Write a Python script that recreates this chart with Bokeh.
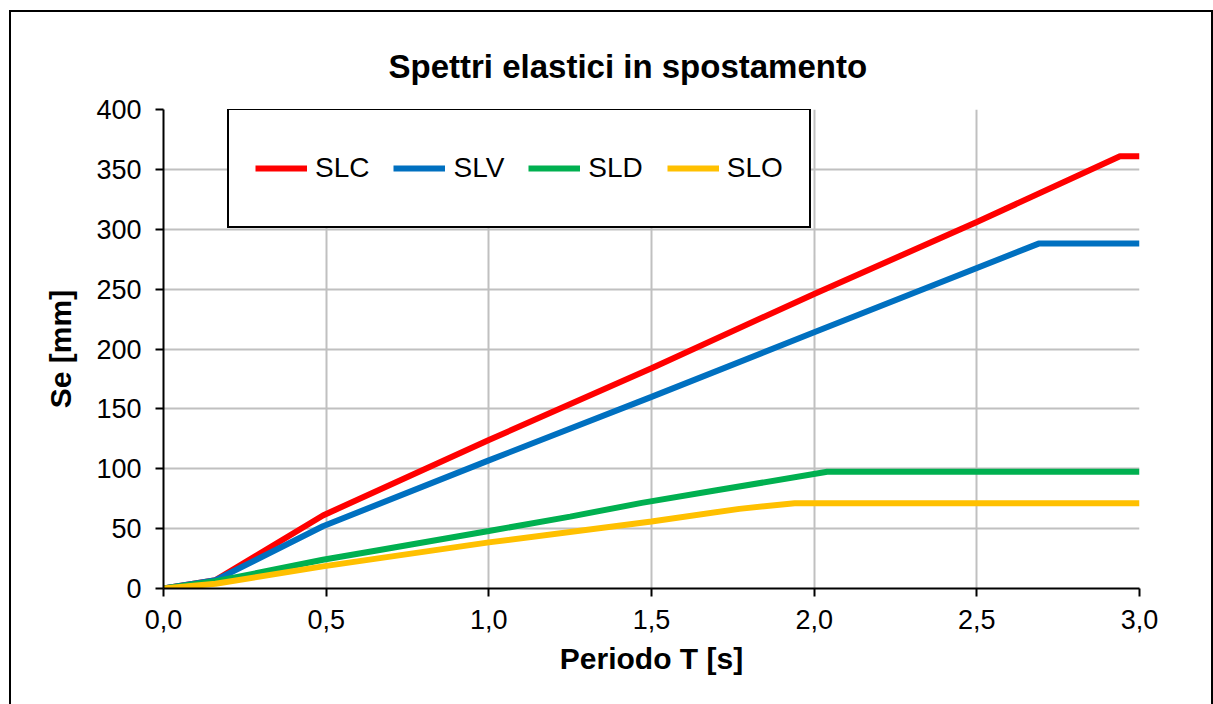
from bokeh.plotting import figure
from bokeh.models import Range1d, FixedTicker, CustomJSTickFormatter, Legend, LegendItem
from bokeh.embed import file_html
from bokeh.resources import INLINE

# ---- data ----
title_text = "Spettri elastici in spostamento"
x_label = "Periodo T [s]"
y_label = "Se [mm]"

x_ticks = [0, 0.5, 1, 1.5, 2, 2.5, 3]
x_tick_labels = ["0,0", "0,5", "1,0", "1,5", "2,0", "2,5", "3,0"]
y_ticks = [0, 50, 100, 150, 200, 250, 300, 350, 400]
y_tick_labels = ["0", "50", "100", "150", "200", "250", "300", "350", "400"]

slc_T = [0, 0.16, 0.49, 1.0, 1.5, 2.0, 2.5, 2.94, 3.0]
slc_S = [0, 7, 61, 124, 184, 246, 306, 361, 361]

slv_T = [0, 0.16, 0.49, 1.0, 1.5, 2.0, 2.69, 3.0]
slv_S = [0, 7, 52, 107, 160, 214, 288, 288]

sld_T = [0, 0.16, 0.49, 0.66, 1.0, 1.25, 1.47, 1.7, 2.04, 3.0]
sld_S = [0, 6, 24, 32, 48, 60, 71.5, 82, 97.5, 97.5]

slo_T = [0, 0.16, 0.49, 1.0, 1.5, 1.77, 1.94, 3.0]
slo_S = [0, 4, 18.5, 38.5, 56, 66.5, 71.2, 71.2]

series = [
    ("SLC", slc_T, slc_S, "#FF0000"),
    ("SLV", slv_T, slv_S, "#0070C0"),
    ("SLD", sld_T, sld_S, "#00B050"),
    ("SLO", slo_T, slo_S, "#FFC000"),
]

FONT = "Liberation Sans"

p = figure(width=1200, height=692, output_backend="svg", toolbar_location=None,
           x_range=Range1d(0, 3), y_range=Range1d(0, 400),
           min_border_left=152, min_border_right=76, min_border_top=97, min_border_bottom=118)
p.styles = {"margin-left": "9px", "margin-top": "10px",
            "border-left": "2px solid black", "border-top": "2px solid black",
            "border-right": "2px solid black", "box-sizing": "content-box"}
p.outline_line_color = None
p.background_fill_color = "white"
p.border_fill_color = "white"

p.title.text = title_text
p.title.text_font = FONT
p.title.text_font_style = "bold"
p.title.text_font_size = "33px"
p.title.text_color = "black"
p.title.align = "left"
p.title.offset = 225
p.title.standoff = 50

for ax, ticks, labels in ((p.xaxis[0], x_ticks, x_tick_labels), (p.yaxis[0], y_ticks, y_tick_labels)):
    ax.ticker = FixedTicker(ticks=ticks)
    ax.formatter = CustomJSTickFormatter(args=dict(labels=labels), code="return labels[index];")
    ax.axis_line_color = "black"
    ax.axis_line_width = 2
    ax.major_tick_line_color = "black"
    ax.major_tick_line_width = 2
    ax.major_tick_out = 8
    ax.major_tick_in = 0
    ax.minor_tick_line_color = None
    ax.major_label_text_font = FONT
    ax.major_label_text_font_size = "27px"
    ax.major_label_text_color = "black"
    ax.axis_label_text_font = FONT
    ax.axis_label_text_font_style = "bold"
    ax.axis_label_text_font_size = "30px"
    ax.axis_label_text_color = "black"

p.xaxis.axis_label = x_label
p.yaxis.axis_label = y_label
p.xaxis.major_label_standoff = 13
p.yaxis.major_label_standoff = 14
p.xaxis.axis_label_standoff = 10
p.yaxis.axis_label_standoff = 16

p.grid.grid_line_color = "#C0C0C0"
p.grid.grid_line_width = 2

items = []
for name, T, S, col in series:
    r = p.line(T, S, line_color=col, line_width=6)
    items.append(LegendItem(label=name, renderers=[r]))

legend = Legend(items=items, orientation="horizontal", location=(64, 360),
                label_text_font=FONT, label_text_font_size="28px", label_text_color="black",
                glyph_width=52, glyph_height=64, label_height=64, label_standoff=8,
                spacing=24, padding=26, margin=0,
                border_line_color="black", border_line_width=2, border_line_alpha=1.0,
                background_fill_color="white", background_fill_alpha=1.0)
p.add_layout(legend, "center")

open("out.html", "w").write(file_html(p, INLINE))
